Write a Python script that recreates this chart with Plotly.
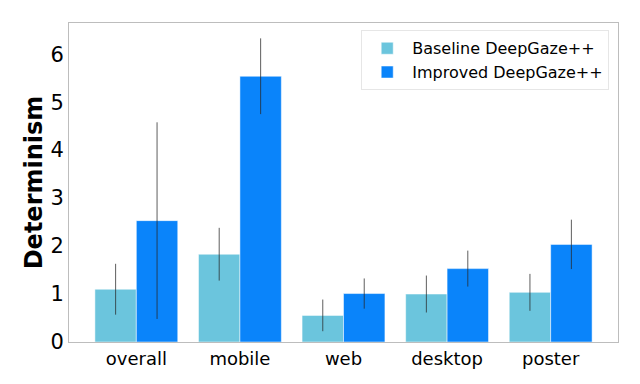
import plotly.graph_objects as go

categories = ['overall', 'mobile', 'web', 'desktop', 'poster']
baseline = [1.10, 1.83, 0.555, 1.00, 1.035]
baseline_err = [0.53, 0.55, 0.33, 0.385, 0.385]
improved = [2.53, 5.54, 1.01, 1.53, 2.035]
improved_err = [2.05, 0.79, 0.315, 0.375, 0.515]

fig = go.Figure()
fig.add_bar(x=categories, y=baseline, name='Baseline DeepGaze++',
            marker=dict(color='#6bc5dd', line=dict(color='rgba(255,255,255,0.5)', width=1)),
            error_y=dict(type='data', array=baseline_err, width=0, thickness=1,
                         color='rgba(40,40,40,0.75)'))
fig.add_bar(x=categories, y=improved, name='Improved DeepGaze++',
            marker=dict(color='#0a84fa', line=dict(color='rgba(255,255,255,0.5)', width=1)),
            error_y=dict(type='data', array=improved_err, width=0, thickness=1,
                         color='rgba(40,40,40,0.75)'))

# page body has an 8px margin, so the figure is a bit smaller than the window
fig.update_layout(
    width=632, height=376,
    margin=dict(l=61, r=22, t=15, b=42),
    paper_bgcolor='white', plot_bgcolor='white',
    font=dict(family='DejaVu Sans', color='black'),
    barmode='group', bargap=0.2, bargroupgap=0,
    showlegend=True,
    legend=dict(x=0.984, y=0.977, xanchor='right', yanchor='top',
                bordercolor='#e6e6e6', borderwidth=1, bgcolor='white',
                font=dict(size=16, family='DejaVu Sans'),
                itemwidth=40),
)
fig.update_xaxes(range=[-0.65, 4.65], showline=True, linecolor='#bdbdbd', linewidth=1,
                 mirror=True, ticks='', tickfont=dict(size=18), showgrid=False,
                 automargin=False)
fig.update_yaxes(range=[0, 6.65], dtick=1, showline=True, linecolor='#bdbdbd', linewidth=1,
                 mirror=True, ticks='', tickfont=dict(size=21), showgrid=False, zeroline=False,
                 automargin=False,
                 title=dict(text='<b>Determinism</b>', font=dict(size=24), standoff=1))

fig.write_html("out.html")
